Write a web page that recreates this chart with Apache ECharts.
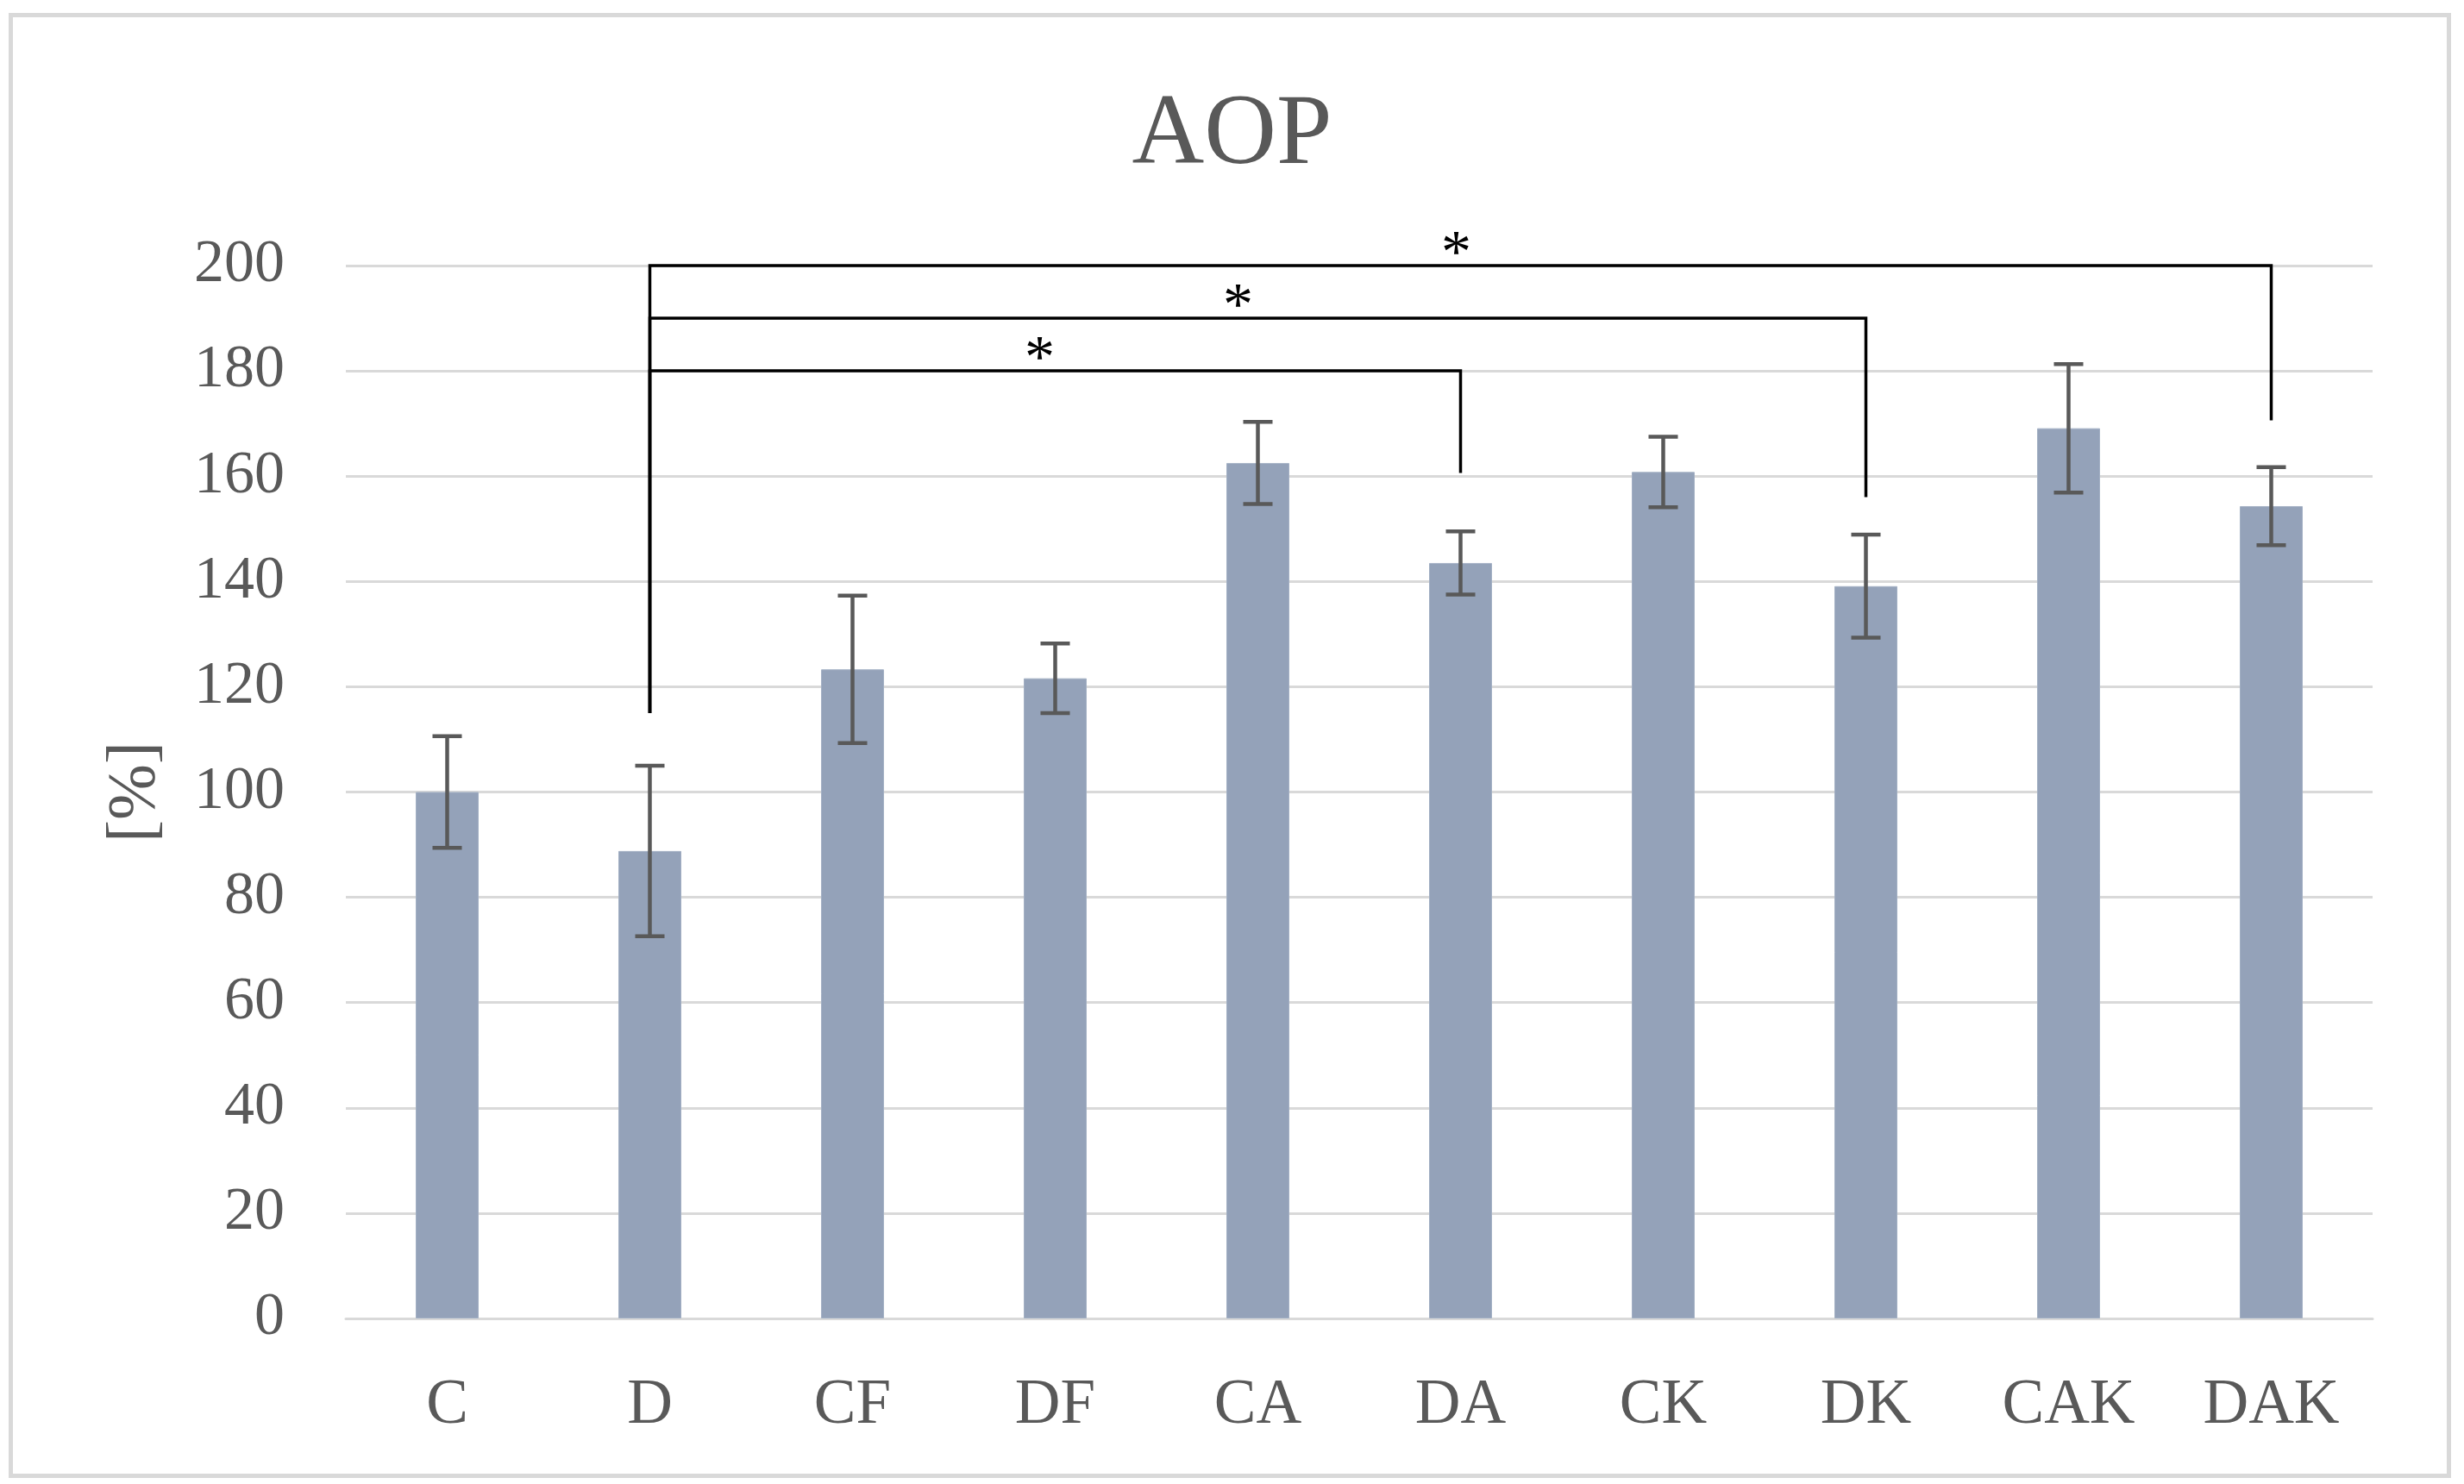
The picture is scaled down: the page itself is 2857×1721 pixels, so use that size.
<!DOCTYPE html>
<html>
<head>
<meta charset="utf-8">
<script src="https://cdn.jsdelivr.net/npm/echarts@6/dist/echarts.min.js"></script>
<style>
html,body{margin:0;padding:0;background:#fff;}
#chart{width:2857px;height:1721px;}
</style>
</head>
<body>
<div id="chart"></div>
<script>
const categories = ['C','D','CF','DF','CA','DA','CK','DK','CAK','DAK'];
const values = [100, 88.8, 123.3, 121.6, 162.5, 143.5, 160.8, 139.1, 169.1, 154.3];
const errors = [10.6, 16.2, 14.0, 6.6, 7.8, 6.0, 6.7, 9.8, 12.2, 7.4];
const yTicks = [0, 20, 40, 60, 80, 100, 120, 140, 160, 180, 200];
// significance brackets
const bracketFrom = ['D', 'D', 'D'];
const bracketTo = ['DA', 'DK', 'DAK'];
const bracketLevel = [180, 190, 200];
const bracketFromEnd = [115, 115, 115];
const bracketToEnd = [160.6, 156, 170.6];
const bracketLabel = ['*', '*', '*'];

const FONT = '"Liberation Serif", "DejaVu Serif", serif';
const TXT = '#595959';
const STAR_SHIFT = [-18, -23, -5]; // pixel nudge of each star from the bracket midpoint

const chart = echarts.init(document.getElementById('chart'), null, {renderer: 'canvas'});

const errData = categories.map((c, i) => [i, values[i] - errors[i], values[i] + errors[i]]);
const brData = bracketFrom.map((f, i) => [categories.indexOf(f), categories.indexOf(bracketTo[i]), bracketLevel[i], bracketFromEnd[i], bracketToEnd[i], bracketLabel[i]]);

chart.setOption({
  animation: false,
  backgroundColor: '#ffffff',
  title: {
    text: 'AOP',
    left: 'center',
    top: 96,
    textStyle: {fontFamily: FONT, fontSize: 116, fontWeight: 'normal', color: TXT}
  },
  graphic: [{
    type: 'rect',
    shape: {x: 12.5, y: 17.5, width: 2827, height: 1694},
    style: {fill: null, stroke: '#d9d9d9', lineWidth: 5},
    silent: true
  }],
  grid: {left: 401, right: 106, top: 308, bottom: 192, containLabel: false},
  xAxis: {
    type: 'category',
    data: categories,
    axisTick: {show: false},
    axisLine: {lineStyle: {color: '#d9d9d9', width: 3}},
    axisLabel: {fontFamily: FONT, fontSize: 73, color: TXT, margin: 65}
  },
  yAxis: {
    type: 'value',
    min: yTicks[0],
    max: yTicks[yTicks.length - 1],
    interval: yTicks[1] - yTicks[0],
    name: '[%]',
    nameLocation: 'middle',
    nameRotate: 90,
    nameGap: 204,
    nameTextStyle: {fontFamily: FONT, fontSize: 78, color: TXT},
    axisLine: {show: false},
    axisTick: {show: false},
    splitLine: {lineStyle: {color: '#d9d9d9', width: 3}},
    axisLabel: {fontFamily: FONT, fontSize: 70, color: TXT, margin: 71}
  },
  series: [
    {
      type: 'bar',
      data: values,
      barWidth: 73,
      itemStyle: {color: '#94a2b9', borderColor: '#a3b0c4', borderWidth: 1},
      z: 2
    },
    {
      type: 'custom',
      data: errData,
      z: 3,
      renderItem: function (params, api) {
        const x = api.value(0);
        const lo = api.coord([x, api.value(1)]);
        const hi = api.coord([x, api.value(2)]);
        const hw = 17;
        const st = {stroke: '#595959', lineWidth: 4.5};
        return {
          type: 'group',
          children: [
            {type: 'line', shape: {x1: lo[0], y1: lo[1], x2: hi[0], y2: hi[1]}, style: st},
            {type: 'line', shape: {x1: lo[0] - hw, y1: lo[1], x2: lo[0] + hw, y2: lo[1]}, style: st},
            {type: 'line', shape: {x1: hi[0] - hw, y1: hi[1], x2: hi[0] + hw, y2: hi[1]}, style: st}
          ]
        };
      }
    },
    {
      type: 'custom',
      data: brData,
      z: 4,
      renderItem: function (params, api) {
        const a = api.value(0), b = api.value(1), lvl = api.value(2);
        const pA = api.coord([a, lvl]);
        const pB = api.coord([b, lvl]);
        const eA = api.coord([a, api.value(3)]);
        const eB = api.coord([b, api.value(4)]);
        const st = {stroke: '#000000', lineWidth: 3.5, fill: null};
        return {
          type: 'group',
          children: [
            {type: 'polyline', shape: {points: [eA, pA, pB, eB]}, style: st},
            {type: 'text', style: {
              text: api.value(5),
              x: (pA[0] + pB[0]) / 2 + STAR_SHIFT[params.dataIndex],
              y: pA[1] - 11,
              fontFamily: FONT, fontSize: 70, fill: '#000000',
              align: 'center', verticalAlign: 'middle'
            }}
          ]
        };
      }
    }
  ]
});
</script>
</body>
</html>
